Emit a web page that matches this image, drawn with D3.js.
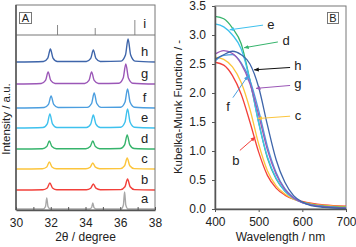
<!DOCTYPE html>
<html>
<head>
<meta charset="utf-8">
<script src="https://cdn.jsdelivr.net/npm/d3@7"></script>
<style>
  body { margin: 0; background: #fff; }
  svg { display: block; }
  text { font-family: "Liberation Sans", Arial, sans-serif; fill: #222; }
</style>
</head>
<body>
<svg width="356" height="247"></svg>
<script>
// ---- data ----
var samples = ["a", "b", "c", "d", "e", "f", "g", "h"];
var colors = {a: "#a8a8a8", b: "#f2403a", c: "#fcc53c", d: "#36b46c", e: "#3ec1ee", f: "#4b9edf", g: "#9b57b7", h: "#3e65aa"};

// XRD patterns (2theta, intensity above own baseline)
var xrd = {
  a: [[30,0],[31.57,0],[31.7,2.5],[31.77,11],[31.84,2.5],[31.97,0],[34.22,0],[34.35,1.4],[34.42,6],[34.49,1.4],[34.62,0],[36.05,0],[36.18,3.9],[36.25,17],[36.32,3.9],[36.45,0],[38,0]],
  b: [[30,0],[31.55,0.3],[31.8,2],[31.95,7],[32.1,2],[32.35,0.3],[34.05,0.2],[34.3,1.8],[34.45,6],[34.6,1.8],[34.85,0.3],[36.02,0.4],[36.27,3.2],[36.42,11],[36.57,3.2],[36.82,0.4],[38,0]],
  c: [[30,0],[31.52,0.3],[31.77,2],[31.92,7],[32.07,2],[32.32,0.3],[34.02,0.2],[34.27,1.8],[34.42,6],[34.57,1.8],[34.82,0.3],[36.0,0.4],[36.25,3.2],[36.4,11],[36.55,3.2],[36.8,0.4],[38,0]],
  d: [[30,0],[31.52,0.3],[31.77,2.4],[31.92,8],[32.07,2.4],[32.32,0.3],[34.02,0.3],[34.27,2.4],[34.42,8],[34.57,2.4],[34.82,0.3],[36.0,0.5],[36.25,4.2],[36.4,14],[36.55,4.2],[36.8,0.5],[38,0]],
  e: [[30,0],[31.55,0.5],[31.8,4.2],[31.95,14],[32.1,4.2],[32.35,0.5],[34.05,0.5],[34.3,3.9],[34.45,13],[34.6,3.9],[34.85,0.5],[36.02,0.7],[36.27,5.7],[36.42,19],[36.57,5.7],[36.82,0.7],[38,0]],
  f: [[30,0],[31.62,0.5],[31.87,3.6],[32.02,12],[32.17,3.6],[32.42,0.5],[34.1,0.6],[34.35,4.5],[34.5,15],[34.65,4.5],[34.9,0.6],[36.02,0.7],[36.27,5.7],[36.42,19],[36.57,5.7],[36.82,0.7],[38,0]],
  g: [[30,0],[31.45,0.5],[31.7,3.6],[31.85,12],[32.0,3.6],[32.25,0.5],[33.95,0.5],[34.2,3.6],[34.35,12],[34.5,3.6],[34.75,0.5],[35.92,0.8],[36.17,6],[36.32,20],[36.47,6],[36.72,0.8],[38,0]],
  h: [[30,0],[31.58,0.5],[31.83,3.9],[31.98,13],[32.13,3.9],[32.38,0.5],[34.05,0.5],[34.3,3.6],[34.45,12],[34.6,3.6],[34.85,0.5],[36.05,0.9],[36.3,6.9],[36.45,23],[36.6,6.9],[36.85,0.9],[38,0]]
};
var offsets = {a: 1, b: 20, c: 41, d: 61, e: 82, f: 102, g: 126, h: 148};
var refPos = [32.39, 34.56, 36.84];   // pattern i
var refInt = [10, 7, 15];
var refBase = 175;

// Kubelka-Munk spectra, panel B
var wavelength = [400, 420, 440, 460, 480, 500, 520, 540, 560, 580, 600, 620, 650, 700];
var km = {
  b: [2.53, 2.48, 2.30, 1.98, 1.50, 0.98, 0.58, 0.36, 0.24, 0.17, 0.13, 0.10, 0.07, 0.05],
  c: [2.62, 2.58, 2.45, 2.18, 1.72, 1.12, 0.66, 0.40, 0.26, 0.17, 0.12, 0.09, 0.06, 0.04],
  d: [3.32, 3.28, 3.12, 2.85, 2.22, 1.50, 0.88, 0.52, 0.31, 0.19, 0.12, 0.08, 0.05, 0.03],
  e: [3.19, 3.14, 3.00, 2.76, 2.22, 1.48, 0.90, 0.53, 0.31, 0.18, 0.11, 0.07, 0.04, 0.02],
  f: [2.55, 2.65, 2.66, 2.52, 2.22, 1.70, 1.08, 0.63, 0.35, 0.20, 0.11, 0.07, 0.04, 0.02],
  g: [2.67, 2.73, 2.68, 2.50, 2.16, 1.62, 1.02, 0.60, 0.34, 0.19, 0.11, 0.07, 0.04, 0.02],
  h: [2.58, 2.66, 2.72, 2.66, 2.50, 2.10, 1.45, 0.85, 0.46, 0.23, 0.12, 0.06, 0.03, 0.01]
};
// annotation: label position and arrow (from -> to) in data units
var notes = [
  {k: "e", lx: 528, ly: 3.19, x1: 510, y1: 3.17, x2: 434, y2: 3.09},
  {k: "d", lx: 563, ly: 2.90, x1: 544, y1: 2.88, x2: 467, y2: 2.78},
  {k: "h", lx: 590, ly: 2.47, x1: 572, y1: 2.44, x2: 490, y2: 2.40},
  {k: "g", lx: 590, ly: 2.16, x1: 572, y1: 2.13, x2: 494, y2: 2.08},
  {k: "c", lx: 590, ly: 1.61, x1: 572, y1: 1.60, x2: 498, y2: 1.56},
  {k: "f", lx: 430, ly: 1.77, x1: 441, y1: 1.92, x2: 476, y2: 2.30},
  {k: "b", lx: 448, ly: 0.84, x1: 457, y1: 1.01, x2: 492, y2: 1.24}
];

var svg = d3.select("svg");
var font = '"Liberation Sans", Arial, sans-serif';
var axisColor = "#555";

// ---------- panel A ----------
var xA = d3.scaleLinear().domain([30, 38]).range([16, 155]);
var yA = d3.scaleLinear().domain([0, 205]).range([210, 5]);

var gA = svg.append("g");

var lineA = d3.line()
    .x(function(d) { return xA(d[0]); })
    .curve(d3.curveMonotoneX);

samples.forEach(function(s) {
  var off = offsets[s];
  gA.append("path")
      .attr("d", lineA.y(function(d) { return yA(d[1] + off); })(xrd[s]))
      .attr("fill", "none")
      .attr("stroke", colors[s])
      .attr("stroke-width", 1.4);
  gA.append("text")
      .attr("x", xA(37.4))
      .attr("y", yA(off + 11))
      .attr("dy", "0.35em")
      .attr("text-anchor", "middle")
      .style("font-size", "13px")
      .text(s);
});

// reference lines (i)
gA.selectAll(".ref")
    .data(refPos)
  .enter().append("line")
    .attr("x1", function(d) { return xA(d); })
    .attr("x2", function(d) { return xA(d); })
    .attr("y1", yA(refBase))
    .attr("y2", function(d, i) { return yA(refBase + refInt[i]); })
    .attr("stroke", "#8a8a8a")
    .attr("stroke-width", 1);
gA.append("text")
    .attr("x", xA(37.4)).attr("y", yA(187)).attr("dy", "0.35em")
    .attr("text-anchor", "middle").style("font-size", "13px").text("i");

gA.append("line")
    .attr("x1", xA(30)).attr("x2", xA(38))
    .attr("y1", yA(refBase)).attr("y2", yA(refBase))
    .attr("stroke", "#777").attr("stroke-width", 1);

gA.append("rect")
    .attr("x", xA(30)).attr("y", yA(205))
    .attr("width", xA(38) - xA(30)).attr("height", yA(0) - yA(205))
    .attr("fill", "none").attr("stroke", "#777").attr("stroke-width", 1);

var axA = gA.append("g")
    .attr("transform", "translate(0," + yA(0) + ")")
    .call(d3.axisBottom(xA).tickValues(d3.range(30, 39, 1)).tickSizeInner(-3).tickSizeOuter(0).tickPadding(8)
      .tickFormat(function(d) { return d % 2 === 0 ? d : ""; }));
gA.append("line")
    .attr("x1", xA(30)).attr("x2", xA(30)).attr("y1", yA(0)).attr("y2", yA(205))
    .attr("stroke", axisColor).attr("stroke-width", 1.5);

// box A
gA.append("rect").attr("x", 19.5).attr("y", 12.5).attr("width", 12).attr("height", 11)
    .attr("fill", "#fff").attr("stroke", "#777");
gA.append("text").attr("x", 25.5).attr("y", 18.5).attr("dy", "0.35em")
    .attr("text-anchor", "middle").style("font-size", "11px").text("A");

gA.append("text")
    .attr("x", xA(34)).attr("y", 241)
    .attr("text-anchor", "middle").style("font-size", "12px")
    .text("2θ / degree");
gA.append("text")
    .attr("transform", "translate(10,119) rotate(-90)")
    .attr("text-anchor", "middle").style("font-size", "11.5px")
    .text("Intensity / a.u.");

// ---------- panel B ----------
var xB = d3.scaleLinear().domain([400, 700]).range([215, 346]);
var yB = d3.scaleLinear().domain([0, 3.5]).range([209, 6]);

var gB = svg.append("g");

gB.append("rect")
    .attr("x", xB(400)).attr("y", yB(3.5))
    .attr("width", xB(700) - xB(400)).attr("height", yB(0) - yB(3.5))
    .attr("fill", "none").attr("stroke", "#777").attr("stroke-width", 1);

var lineB = d3.line()
    .x(function(d, i) { return xB(wavelength[i]); })
    .y(function(d) { return yB(d); })
    .curve(d3.curveMonotoneX);

["b", "c", "d", "e", "f", "g", "h"].forEach(function(s) {
  gB.append("path")
      .attr("d", lineB(km[s]))
      .attr("fill", "none")
      .attr("stroke", colors[s])
      .attr("stroke-width", 1.3);
});

var axBx = gB.append("g")
    .attr("transform", "translate(0," + yB(0) + ")")
    .call(d3.axisBottom(xB).tickValues([400, 500, 600, 700]).tickSizeInner(3).tickSizeOuter(0).tickPadding(5));
var axBy = gB.append("g")
    .attr("transform", "translate(" + xB(400) + ",0)")
    .call(d3.axisLeft(yB).tickValues(d3.range(0, 3.51, 0.5)).tickFormat(d3.format(".1f"))
      .tickSizeInner(3).tickSizeOuter(0).tickPadding(6));

[axA, axBx, axBy].forEach(function(ax) {
  ax.attr("font-family", font).attr("font-size", 12);
  ax.selectAll("text").style("fill", "#222");
  ax.selectAll("line").attr("stroke", axisColor);
  ax.select(".domain").attr("stroke", axisColor).attr("stroke-width", 1.5);
});

// arrow markers
var defs = svg.append("defs");
notes.forEach(function(n) {
  var c = n.k === "h" ? "#111" : colors[n.k];
  defs.append("marker")
      .attr("id", "arr-" + n.k)
      .attr("viewBox", "0 -5 10 10")
      .attr("refX", 9).attr("refY", 0)
      .attr("markerWidth", 5).attr("markerHeight", 5)
      .attr("markerUnits", "userSpaceOnUse")
      .attr("orient", "auto")
    .append("path")
      .attr("d", "M0,-4L10,0L0,4Z")
      .attr("fill", c);
  gB.append("line")
      .attr("x1", xB(n.x1)).attr("y1", yB(n.y1))
      .attr("x2", xB(n.x2)).attr("y2", yB(n.y2))
      .attr("stroke", c).attr("stroke-width", 1)
      .attr("marker-end", "url(#arr-" + n.k + ")");
  gB.append("text")
      .attr("x", xB(n.lx)).attr("y", yB(n.ly)).attr("dy", "0.35em")
      .attr("text-anchor", "middle").style("font-size", "13px")
      .text(n.k);
});

// box B
gB.append("rect").attr("x", 327.5).attr("y", 12.5).attr("width", 11).attr("height", 11)
    .attr("fill", "#fff").attr("stroke", "#777");
gB.append("text").attr("x", 333).attr("y", 18.5).attr("dy", "0.35em")
    .attr("text-anchor", "middle").style("font-size", "11px").text("B");

gB.append("text")
    .attr("x", (xB(400) + xB(700)) / 2).attr("y", 241)
    .attr("text-anchor", "middle").style("font-size", "12px")
    .text("Wavelength / nm");
gB.append("text")
    .attr("transform", "translate(182,107) rotate(-90)")
    .attr("text-anchor", "middle").style("font-size", "11.5px")
    .text("Kubelka-Munk Function / -");
</script>
</body>
</html>
